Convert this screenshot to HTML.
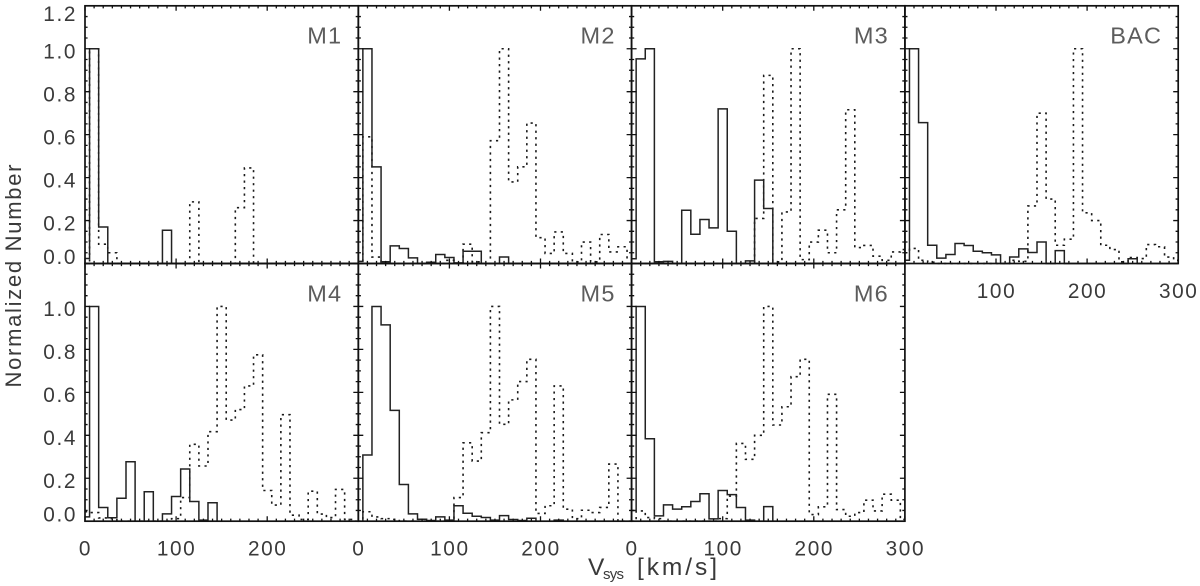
<!DOCTYPE html>
<html lang="en">
<head>
<meta charset="utf-8">
<title>Normalized Vsys histograms</title>
<style>
html,body{margin:0;padding:0;background:#fff;width:1200px;height:586px;overflow:hidden}
svg{display:block}
text{font-family:"Liberation Sans",sans-serif;fill:#3a3a3a}
.tick{font-size:20.8px;letter-spacing:1.6px}
.title{font-size:23.5px;letter-spacing:1.2px;fill:#5c5c5c}
</style>
</head>
<body>
<svg id="chart" width="1200" height="586" viewBox="0 0 1200 586">
  <text transform="translate(21,276) rotate(-90)" text-anchor="middle" font-size="22" textLength="223" lengthAdjust="spacing">Normalized Number</text>
  <text y="575" font-size="24.5"><tspan x="588" textLength="14.5">V</tspan><tspan x="603" y="579" font-size="15" textLength="21">sys</tspan><tspan x="637" y="575" textLength="80">[km/s]</tspan></text>
</svg>
<script>
// Histogram bin centres, km/s
const binCenters = [0,10,20,30,40,50,60,70,80,90,100,110,120,130,140,150,160,170,180,190,200,210,220,230,240,250,260,270,280,290,300];

// Solid series (normalized number per bin)
const m1Solid  = [.023,1,.17,0,0,0,0,0,0,.155,0,0,0,0,0,0,0,0,0,0,0,0,0,0,0,0,0,0,0,0,0];
const m2Solid  = [.01,1,.45,.008,.082,.07,.026,0,.006,.042,.028,.003,.057,.057,0,0,.03,0,0,0,0,0,0,0,0,0,0,0,0,0,0];
const m3Solid  = [.022,.953,1,.008,.01,0,.248,.136,.205,.166,.72,.15,0,.012,.388,.256,0,0,0,0,0,0,0,0,0,0,0,0,0,0,0];
const bacSolid = [.015,1,.656,.085,.025,.042,.093,.084,.057,.05,.04,0,.03,.068,.051,.1,0,.06,0,0,0,0,0,0,0,.022,0,0,0,0,0];
const m4Solid  = [.02,1,.064,.016,.107,.277,0,.137,0,.034,.115,.243,.092,.005,.086,0,0,0,0,0,0,0,0,0,0,0,0,0,0,0,0];
const m5Solid  = [0,.308,1,.914,.516,.171,.034,.009,.003,.02,.005,.072,.037,.023,.017,.005,.026,.008,.003,.014,0,0,.005,0,0,0,0,0,0,0,0];
const m6Solid  = [.05,1,.384,.025,.076,.056,.067,.092,.128,.011,.143,.124,.064,.005,0,.068,0,0,0,0,0,0,0,0,0,0,0,0,0,0,0];

// Dotted series (normalized number per bin)
const m1Dotted  = [0,1,.09,.05,0,0,0,0,0,0,0,0,.287,0,0,0,0,.26,.445,0,0,0,0,0,0,0,0,0,0,0,0];
const m2Dotted  = [0,.59,.03,0,0,0,0,0,0,0,.015,0,.09,.008,0,.572,1,.38,.45,.654,.12,.047,.147,.047,.008,.1,.008,.135,.054,.078,.023];
const m3Dotted  = [0,0,0,0,0,0,0,0,0,0,0,0,0,0,.21,.876,.008,.24,1,.018,.1,.155,.05,.25,.716,.074,.084,.034,.015,.054,.065];
const bacDotted = [.05,.07,.015,.006,0,0,0,0,0,0,0,0,.015,.01,.268,.7,.3,.085,.113,1,.236,.2,.085,.065,.008,.028,.023,.088,.078,.03,.015];
const m4Dotted  = [.044,.04,.015,.012,0,0,0,0,0,0,.012,.11,.358,.257,.417,1,.471,.52,.63,.775,.143,.075,.496,.028,.008,.14,.033,.017,.148,.008,0];
const m5Dotted  = [0,.044,.02,.012,.008,0,0,0,0,0,0,.11,.365,.28,.412,1,.451,.565,.65,.754,.036,.072,.63,.056,.012,.051,.04,.064,.266,0,0];
const m6Dotted  = [0,.048,.017,.012,0,0,0,0,0,0,.012,.117,.362,.288,.4,1,.448,.533,.673,.754,.031,.067,.591,.054,.023,.04,.098,.048,.126,.098,.008];

// Tick labels
const yTickValues = [0,.2,.4,.6,.8,1,1.2];
const yTickLabels = ["0.0","0.2","0.4","0.6","0.8","1.0","1.2"];
const xTickValues = [0,100,200,300];
const xTickLabels = ["0","100","200","300"];
const panelTitles = ["M1","M2","M3","BAC","M4","M5","M6"];

const xMax = 300, yMax = 1.2;
const plotLeft = 85, panelW = 273.3, panelH = 257.7, plotTop = 5.8;
const NS = "http://www.w3.org/2000/svg";
const chart = document.getElementById("chart");

const panels = [
  {title:panelTitles[0],col:0,row:0,solid:m1Solid,dotted:m1Dotted},
  {title:panelTitles[1],col:1,row:0,solid:m2Solid,dotted:m2Dotted},
  {title:panelTitles[2],col:2,row:0,solid:m3Solid,dotted:m3Dotted},
  {title:panelTitles[3],col:3,row:0,solid:bacSolid,dotted:bacDotted},
  {title:panelTitles[4],col:0,row:1,solid:m4Solid,dotted:m4Dotted},
  {title:panelTitles[5],col:1,row:1,solid:m5Solid,dotted:m5Dotted},
  {title:panelTitles[6],col:2,row:1,solid:m6Solid,dotted:m6Dotted}
];

function stepPath(values, sx, sy){
  let d = "";
  values.forEach(function(v,i){
    const c = binCenters[i];
    const half = 5;
    const a = sx(Math.max(0,c-half));
    const b = sx(Math.min(xMax,c+half));
    const y = sy(v).toFixed(2);
    d += (i===0 ? "M" : "L") + a.toFixed(2) + " " + y + "L" + b.toFixed(2) + " " + y;
  });
  return d;
}

panels.forEach(function(p){
  const left = plotLeft + p.col*panelW;
  const top = plotTop + p.row*panelH;
  const bottom = top + panelH;
  const right = left + panelW;
  const sx = function(v){ return left + v/xMax*panelW; };
  const sy = function(v){ return bottom - v/yMax*panelH; };
  const key = p.title.toLowerCase();

  const g = document.createElementNS(NS,"g");
  
  
  chart.appendChild(g);

  const dotted = document.createElementNS(NS,"path");
  dotted.setAttribute("d", stepPath(p.dotted,sx,sy));
  dotted.setAttribute("fill","none");
  dotted.setAttribute("stroke","#1a1a1a");
  dotted.setAttribute("stroke-width","1.6");
  dotted.setAttribute("stroke-dasharray","2.2 4.3");
  
  
  g.appendChild(dotted);

  const solid = document.createElementNS(NS,"path");
  solid.setAttribute("d", stepPath(p.solid,sx,sy));
  solid.setAttribute("fill","none");
  solid.setAttribute("stroke","#222");
  solid.setAttribute("stroke-width","1.5");
  
  
  g.appendChild(solid);

  let t = "";
  for(let v=0;v<=xMax;v+=10){
    const len = v%100===0 ? 5 : 2.6;
    const x = sx(v).toFixed(2);
    t += "M"+x+" "+bottom+"v"+(-len)+"M"+x+" "+top+"v"+len;
  }
  for(let i=0;i<=24;i++){
    const len = i%4===0 ? 5 : 2.6;
    const y = (bottom - i/24*panelH).toFixed(2);
    t += "M"+left+" "+y+"h"+len+"M"+right+" "+y+"h"+(-len);
  }
  const ticks = document.createElementNS(NS,"path");
  ticks.setAttribute("d",t);
  ticks.setAttribute("fill","none");
  ticks.setAttribute("stroke","#111");
  ticks.setAttribute("stroke-width","1.3");
  
  
  g.appendChild(ticks);

  const frame = document.createElementNS(NS,"rect");
  frame.setAttribute("x",left);
  frame.setAttribute("y",top);
  frame.setAttribute("width",panelW);
  frame.setAttribute("height",panelH);
  frame.setAttribute("fill","none");
  frame.setAttribute("stroke","#111");
  frame.setAttribute("stroke-width","1.7");
  
  
  g.appendChild(frame);

  const title = document.createElementNS(NS,"text");
  title.textContent = p.title;
  title.setAttribute("x",right-16);
  title.setAttribute("y",top+37.8);
  title.setAttribute("text-anchor","end");
  title.setAttribute("class","title");
  
  
  g.appendChild(title);

  if(p.col===0){
    yTickValues.forEach(function(v,i){
      if(p.row===1 && v===yMax) return;
      const y = Math.min(Math.max(sy(v)+3,top+8.5),bottom-6.3);
      const label = document.createElementNS(NS,"text");
      label.textContent = yTickLabels[i];
      label.setAttribute("x",77);
      label.setAttribute("y",(y+6.7).toFixed(2));
      label.setAttribute("text-anchor","end");
      label.setAttribute("class","tick");
      
      
      g.appendChild(label);
    });
  }

  const showsX = p.row===1 || p.col===3;
  if(showsX){
    xTickValues.forEach(function(v,i){
      if(p.col===3 && v===0) return;
      if(p.row===1 && p.col<2 && v===xMax) return;
      const label = document.createElementNS(NS,"text");
      label.textContent = xTickLabels[i];
      label.setAttribute("x",(sx(v)+0.5).toFixed(2));
      label.setAttribute("y",bottom+34.5);
      label.setAttribute("text-anchor","middle");
      label.setAttribute("class","tick");
      
      
      g.appendChild(label);
    });
  }
});
</script>
</body>
</html>
